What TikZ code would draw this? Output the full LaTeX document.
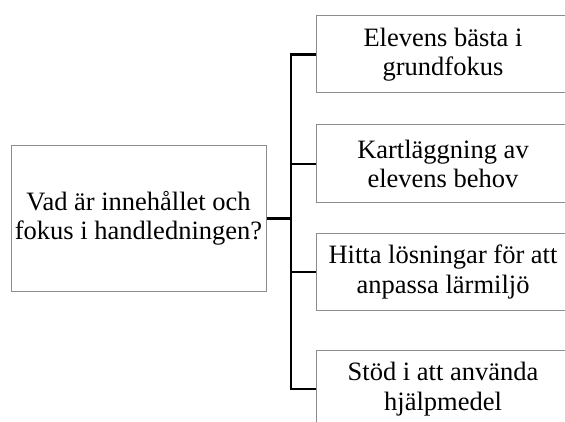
\documentclass[tikz,border=0pt]{standalone}
\usepackage{fontspec}
\setmainfont{Liberation Serif}
\begin{document}
\begin{tikzpicture}[x=1pt,y=-1pt,
  box/.style={draw=black!45,line width=1pt,rectangle,inner sep=0pt,align=center,
    font=\fontsize{26.5}{29.5}\selectfont},
  conn/.style={draw=black,line width=2.4pt}]
\useasboundingbox (0,0) rectangle (565,422);
\clip (0,0) rectangle (565,422);
\node[box,minimum width=255pt,minimum height=145pt] (L) at (138.5,218.5) {Vad är innehållet och\\fokus i handledningen?};
\node[box,minimum width=254pt,minimum height=77pt] (R1) at (443,54.5) {Elevens bästa i\\grundfokus};
\node[box,minimum width=254pt,minimum height=78pt] (R2) at (443,164) {Kartläggning av\\elevens behov};
\node[box,minimum width=254pt,minimum height=76pt] (R3) at (443,272) {Hitta lösningar för att\\anpassa lärmiljö};
\node[box,minimum width=254pt,minimum height=78pt] (R4) at (443,389) {Stöd i att använda\\hjälpmedel};
\coordinate (bus) at (291,218);
\draw[conn] (L.east) -- (L.east -| bus);
\draw[conn,line cap=rect] (bus |- R1.west) -- (bus |- R4.west);
\draw[conn] (bus |- R1.west) -- (R1.west);
\draw[conn] (bus |- R2.west) -- (R2.west);
\draw[conn] (bus |- R3.west) -- (R3.west);
\draw[conn] (bus |- R4.west) -- (R4.west);
\end{tikzpicture}
\end{document}
